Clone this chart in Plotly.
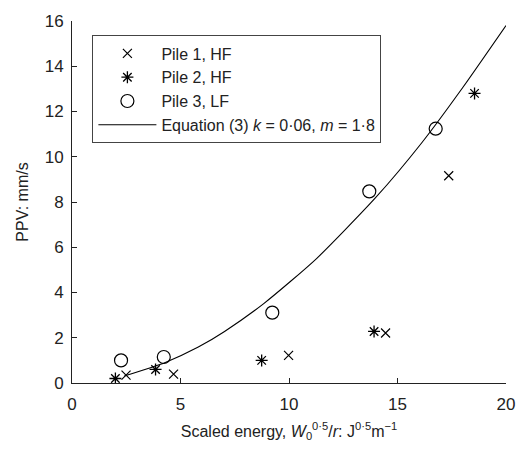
import plotly.graph_objects as go

# Pile 1, HF
pile1_x = [2.49, 4.68, 9.98, 14.45, 17.36]
pile1_y = [0.35, 0.39, 1.22, 2.21, 9.16]

# Pile 2, HF
pile2_x = [2.0, 3.85, 8.74, 13.92, 18.55]
pile2_y = [0.20, 0.60, 1.00, 2.28, 12.80]

# Pile 3, LF
pile3_x = [2.26, 4.23, 9.23, 13.70, 16.76]
pile3_y = [1.00, 1.15, 3.11, 8.47, 11.24]

# Equation (3) curve, read point by point
eq_x = [2.41, 4.30, 5.82, 7.03, 8.85, 11.27, 14.00, 16.12, 18.00, 20.00]
eq_y = [0.31, 0.91, 1.59, 2.28, 3.52, 5.50, 8.20, 10.62, 13.05, 15.80]

x_ticks = [0, 5, 10, 15, 20]
y_ticks = [0, 2, 4, 6, 8, 10, 12, 14, 16]

font = "Liberation Sans, Arial, sans-serif"

fig = go.Figure()
fig.add_trace(go.Scatter(
    x=pile1_x, y=pile1_y, mode="markers", name="Pile 1, HF",
    marker=dict(symbol="x-thin-open", size=9, color="black",
                line=dict(color="black", width=1.2)),
))
fig.add_trace(go.Scatter(
    x=pile2_x, y=pile2_y, mode="markers", name="Pile 2, HF",
    marker=dict(symbol="asterisk-open", size=10, color="black",
                line=dict(color="black", width=1.3)),
))
fig.add_trace(go.Scatter(
    x=pile3_x, y=pile3_y, mode="markers", name="Pile 3, LF",
    marker=dict(symbol="circle-open", size=13, color="black",
                line=dict(color="black", width=1.2)),
))
fig.add_trace(go.Scatter(
    x=eq_x, y=eq_y, mode="lines",
    name="Equation (3) <i>k</i> = 0·06, <i>m</i> = 1·8",
    line=dict(color="black", width=1.1, shape="spline", smoothing=0.6),
))

fig.update_layout(
    width=527, height=454,
    margin=dict(l=72, r=15, t=18, b=71),
    paper_bgcolor="white", plot_bgcolor="white",
    font=dict(family=font, size=15, color="#222"),
    showlegend=True,
    legend=dict(
        x=0.047, y=0.96, xanchor="left", yanchor="top",
        bordercolor="#444", borderwidth=1, bgcolor="white",
        font=dict(size=16, family=font, color="#222"),
        itemwidth=58, tracegroupgap=0,
    ),
    xaxis=dict(
        range=[0, 20], tickvals=x_ticks, ticks="inside", ticklen=5,
        tickcolor="#222", showline=True, linecolor="#222", linewidth=1,
        showgrid=False, zeroline=False, mirror=False,
        tickfont=dict(size=17), ticklabelstandoff=6,
        title=dict(
            text="Scaled energy, <i>W</i><sub>0</sub><sup>0·5</sup>/<i>r</i>: J<sup>0·5</sup>m<sup>−1</sup>",
            font=dict(size=16), standoff=12,
        ),
    ),
    yaxis=dict(
        range=[0, 16], tickvals=y_ticks, ticks="inside", ticklen=5,
        tickcolor="#222", showline=True, linecolor="#222", linewidth=1,
        showgrid=False, zeroline=False, mirror=False,
        tickfont=dict(size=17), ticklabelstandoff=4,
        title=dict(text="PPV: mm/s", font=dict(size=16), standoff=12),
    ),
)

fig.write_html("out.html")
